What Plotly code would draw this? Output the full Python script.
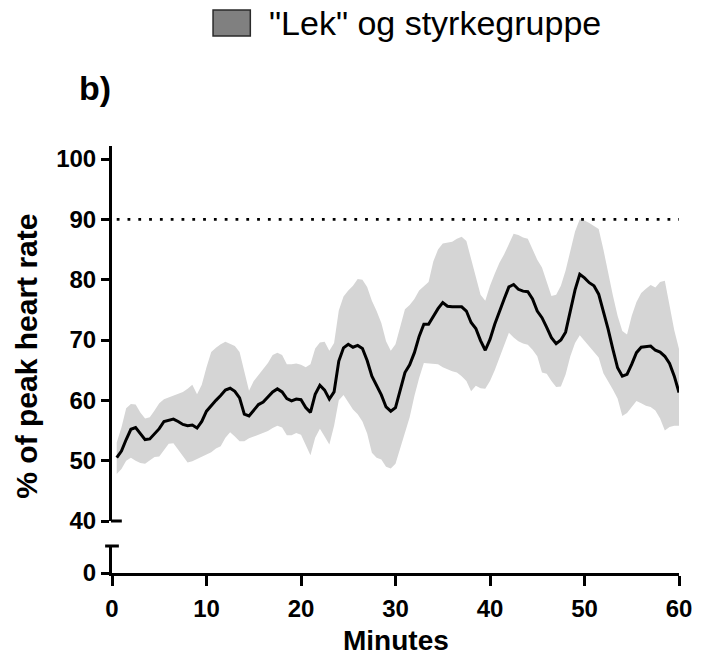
import plotly.graph_objects as go

# Time points (minutes), sampled every half minute
minutes = [0.5 * i for i in range(1, 121)]

# Mean % of peak heart rate
mean_hr = [
    50.5, 51.6, 53.5, 55.2, 55.5, 54.4, 53.5, 53.6, 54.5, 55.3,
    56.5, 56.7, 56.9, 56.5, 56.0, 55.8, 55.9, 55.4, 56.5, 58.2,
    59.2, 60.0, 60.8, 61.7, 62.0, 61.5, 60.4, 57.7, 57.4, 58.4,
    59.3, 59.7, 60.5, 61.4, 61.9, 61.4, 60.3, 59.9, 60.2, 60.1,
    58.8, 58.0, 61.0, 62.5, 61.7, 60.2, 61.4, 66.5, 68.7, 69.3,
    68.8, 69.1, 68.6, 66.6, 64.0, 62.4, 60.9, 58.9, 58.2, 58.8,
    61.8, 64.6, 65.9, 67.9, 70.6, 72.6, 72.6, 74.0, 75.2, 76.2,
    75.6, 75.5, 75.5, 75.5, 74.8, 72.9, 71.9, 69.9, 68.3, 70.1,
    72.6, 74.8, 76.8, 78.8, 79.2, 78.4, 78.1, 78.0, 76.8, 74.8,
    73.7, 72.1, 70.4, 69.4, 70.0, 71.3, 75.0, 78.3, 80.9, 80.3,
    79.5, 79.0, 77.6, 74.9, 71.8, 68.5, 65.4, 64.0, 64.3, 66.0,
    67.9, 68.8, 68.9, 69.0, 68.3, 68.0, 67.3, 66.1, 64.0, 61.3,
]

# Upper edge of the spread band
upper_hr = [
    53.0, 55.5, 58.7, 59.4, 59.3, 58.0, 57.0, 57.2, 58.3, 59.5,
    60.2, 60.5, 60.9, 61.1, 61.4, 61.9, 62.6, 61.0, 62.6, 65.5,
    68.0, 68.7, 69.3, 69.7, 69.4, 69.0, 68.0, 64.6, 61.6, 63.2,
    64.2, 65.2, 66.2, 67.5, 67.9, 67.5, 66.0, 66.0, 66.1, 65.9,
    65.5, 66.0, 68.6, 69.6, 69.7, 68.2, 69.5, 74.9, 77.2, 78.2,
    79.0, 80.1, 80.0, 78.8, 76.5, 74.8, 72.8, 69.8, 68.2, 69.3,
    72.3, 75.1, 75.8, 76.8, 78.2, 78.9, 79.6, 83.0, 85.0, 86.0,
    86.2, 86.3, 86.8, 87.1, 86.4, 83.5, 80.5, 77.5, 76.5, 79.0,
    81.0, 82.8, 84.2, 86.0, 87.6, 87.4, 87.0, 86.8, 85.0, 83.3,
    82.0, 79.5, 77.3, 77.5, 79.0, 81.5, 84.7, 88.0, 90.0, 89.8,
    89.4, 88.9, 88.4, 85.0, 81.0, 77.4, 74.0, 71.5, 70.9, 74.0,
    76.3, 77.8, 78.5, 79.1, 78.7, 79.6, 79.8, 76.0, 71.6, 68.5,
]

# Lower edge of the spread band
lower_hr = [
    47.8, 48.6, 50.0, 50.5, 50.0, 49.6, 49.5, 50.0, 50.6, 50.7,
    51.8, 52.8, 52.9, 51.8, 50.7, 49.7, 49.9, 50.3, 50.7, 51.0,
    51.4, 52.0, 52.4, 53.8, 54.7, 54.0, 53.2, 53.2, 53.7, 54.0,
    54.3, 54.6, 54.9, 55.4, 55.8, 55.5, 54.2, 54.2, 54.6, 54.3,
    52.5, 50.9, 53.8, 55.3, 54.0, 52.7, 55.8, 60.0, 60.9, 59.8,
    58.5, 57.7, 56.5, 54.5, 51.3, 50.5, 50.2, 49.0, 48.7, 49.5,
    52.0, 54.4, 57.2, 60.7, 63.7, 66.2, 66.1, 66.0, 66.0, 65.5,
    65.1, 64.8, 64.6, 64.0, 63.2, 61.5, 62.4, 62.0, 61.9, 63.2,
    65.0, 67.1, 69.2, 71.2, 70.4, 69.8, 69.4, 69.2, 68.4, 67.3,
    64.6, 64.4, 63.2, 62.2, 62.3, 64.3, 67.3, 69.5, 70.8, 69.9,
    69.0, 68.0, 67.1, 64.5, 63.2, 61.8, 60.3, 57.4, 57.9, 59.0,
    59.9, 59.5, 59.1, 58.9, 58.3, 57.0, 55.0, 55.6, 55.8, 55.8,
]

threshold_x = [0.5, 60]
threshold_y = [90, 90]

x_ticks = [0, 10, 20, 30, 40, 50, 60]
y_ticks = [40, 50, 60, 70, 80, 90, 100]

legend_label = '"Lek" og styrkegruppe'
panel_label = "b)"
x_title = "Minutes"
y_title = "% of peak heart rate"

# ---- layout geometry (pixels) ----
W, H = 704, 656
L, R, T, B = 112, 14, 146, 83
PW, PH = W - L - R, H - T - B
Y_UPPER_BOTTOM = 521   # pixel row of the 40 tick
Y_LOWER_TOP = 546      # pixel row of the top of the broken segment


def px_x(px):
    return (px - L) / PW


def px_y(py):
    return (H - B - py) / PH


FONT = "Arial, Liberation Sans, Helvetica, sans-serif"
AXIS_W = 3

fig = go.Figure()

fig.add_trace(go.Scatter(
    x=minutes, y=lower_hr, mode="lines", line=dict(width=0, color="rgba(0,0,0,0)"),
    hoverinfo="skip", showlegend=False, xaxis="x", yaxis="y",
))
fig.add_trace(go.Scatter(
    x=minutes, y=upper_hr, mode="lines", line=dict(width=0, color="rgba(0,0,0,0)"),
    fill="tonexty", fillcolor="#d5d5d5", hoverinfo="skip", showlegend=False,
    xaxis="x", yaxis="y",
))
fig.add_trace(go.Scatter(
    x=threshold_x, y=threshold_y, mode="lines",
    line=dict(color="black", width=2.8, dash="2.8px,8px"),
    showlegend=False, xaxis="x", yaxis="y",
))
fig.add_trace(go.Scatter(
    x=minutes, y=mean_hr, mode="lines", line=dict(color="black", width=3),
    showlegend=False, xaxis="x", yaxis="y",
))
# Empty series on the lower (broken) segment so that subplot exists
fig.add_trace(go.Scatter(
    x=[None], y=[None], mode="lines", showlegend=False, hoverinfo="skip",
    xaxis="x", yaxis="y2",
))

axis_common = dict(
    showline=True, linecolor="black", linewidth=AXIS_W,
    ticks="outside", tickcolor="black", tickwidth=AXIS_W,
    showgrid=False, zeroline=False, mirror=False,
    tickfont=dict(family=FONT, size=24, color="black", weight="bold"),
)

upper_bottom = px_y(Y_UPPER_BOTTOM)
lower_top = px_y(Y_LOWER_TOP)
# 100 sits at pixel 159, 40 at pixel 521
per_unit = (Y_UPPER_BOTTOM - 159) / 60.0
upper_top_val = 40 + (Y_UPPER_BOTTOM - T) / per_unit

fig.update_layout(
    width=W, height=H,
    margin=dict(l=L, r=R, t=T, b=B),
    paper_bgcolor="white", plot_bgcolor="white",
    showlegend=False,
    xaxis=dict(
        **axis_common, range=[0, 60], tickvals=x_ticks, ticklen=10,
        anchor="y2", domain=[0, 1], ticklabelstandoff=2,
    ),
    yaxis=dict(
        **axis_common, range=[40, upper_top_val], tickvals=y_ticks, ticklen=8,
        domain=[upper_bottom, 1], anchor="x",
    ),
    yaxis2=dict(
        **axis_common, range=[0, 1], tickvals=[0], ticklen=8,
        domain=[0, lower_top], anchor="x",
    ),
)

# Axis break caps
fig.add_shape(type="line", xref="paper", yref="paper",
              x0=px_x(L - 7), x1=px_x(L + 7), y0=lower_top, y1=lower_top,
              line=dict(color="black", width=AXIS_W))
fig.add_shape(type="line", xref="paper", yref="paper",
              x0=px_x(L - 1), x1=px_x(L + 10), y0=upper_bottom, y1=upper_bottom,
              line=dict(color="black", width=AXIS_W))

# Legend swatch and label
fig.add_shape(type="rect", xref="paper", yref="paper",
              x0=px_x(215), x1=px_x(253), y0=px_y(36), y1=px_y(10),
              fillcolor="#808080", line=dict(color="#2a2a2a", width=1.5))
fig.add_annotation(text=legend_label, xref="paper", yref="paper",
                   x=px_x(270), y=px_y(23), xanchor="left", yanchor="middle",
                   showarrow=False, font=dict(family=FONT, size=34, color="black"))

# Panel label
fig.add_annotation(text=panel_label, xref="paper", yref="paper",
                   x=px_x(76), y=px_y(88), xanchor="left", yanchor="middle",
                   showarrow=False,
                   font=dict(family=FONT, size=34, color="black", weight="bold"))

# Axis titles
fig.add_annotation(text=y_title, xref="paper", yref="paper",
                   x=px_x(24), y=px_y(356), xanchor="center", yanchor="middle",
                   textangle=-90, showarrow=False,
                   font=dict(family=FONT, size=30, color="black", weight="bold"))
fig.add_annotation(text=x_title, xref="paper", yref="paper",
                   x=0.5, y=px_y(640), xanchor="center", yanchor="middle",
                   showarrow=False,
                   font=dict(family=FONT, size=28, color="black", weight="bold"))

fig.write_html("out.html")
